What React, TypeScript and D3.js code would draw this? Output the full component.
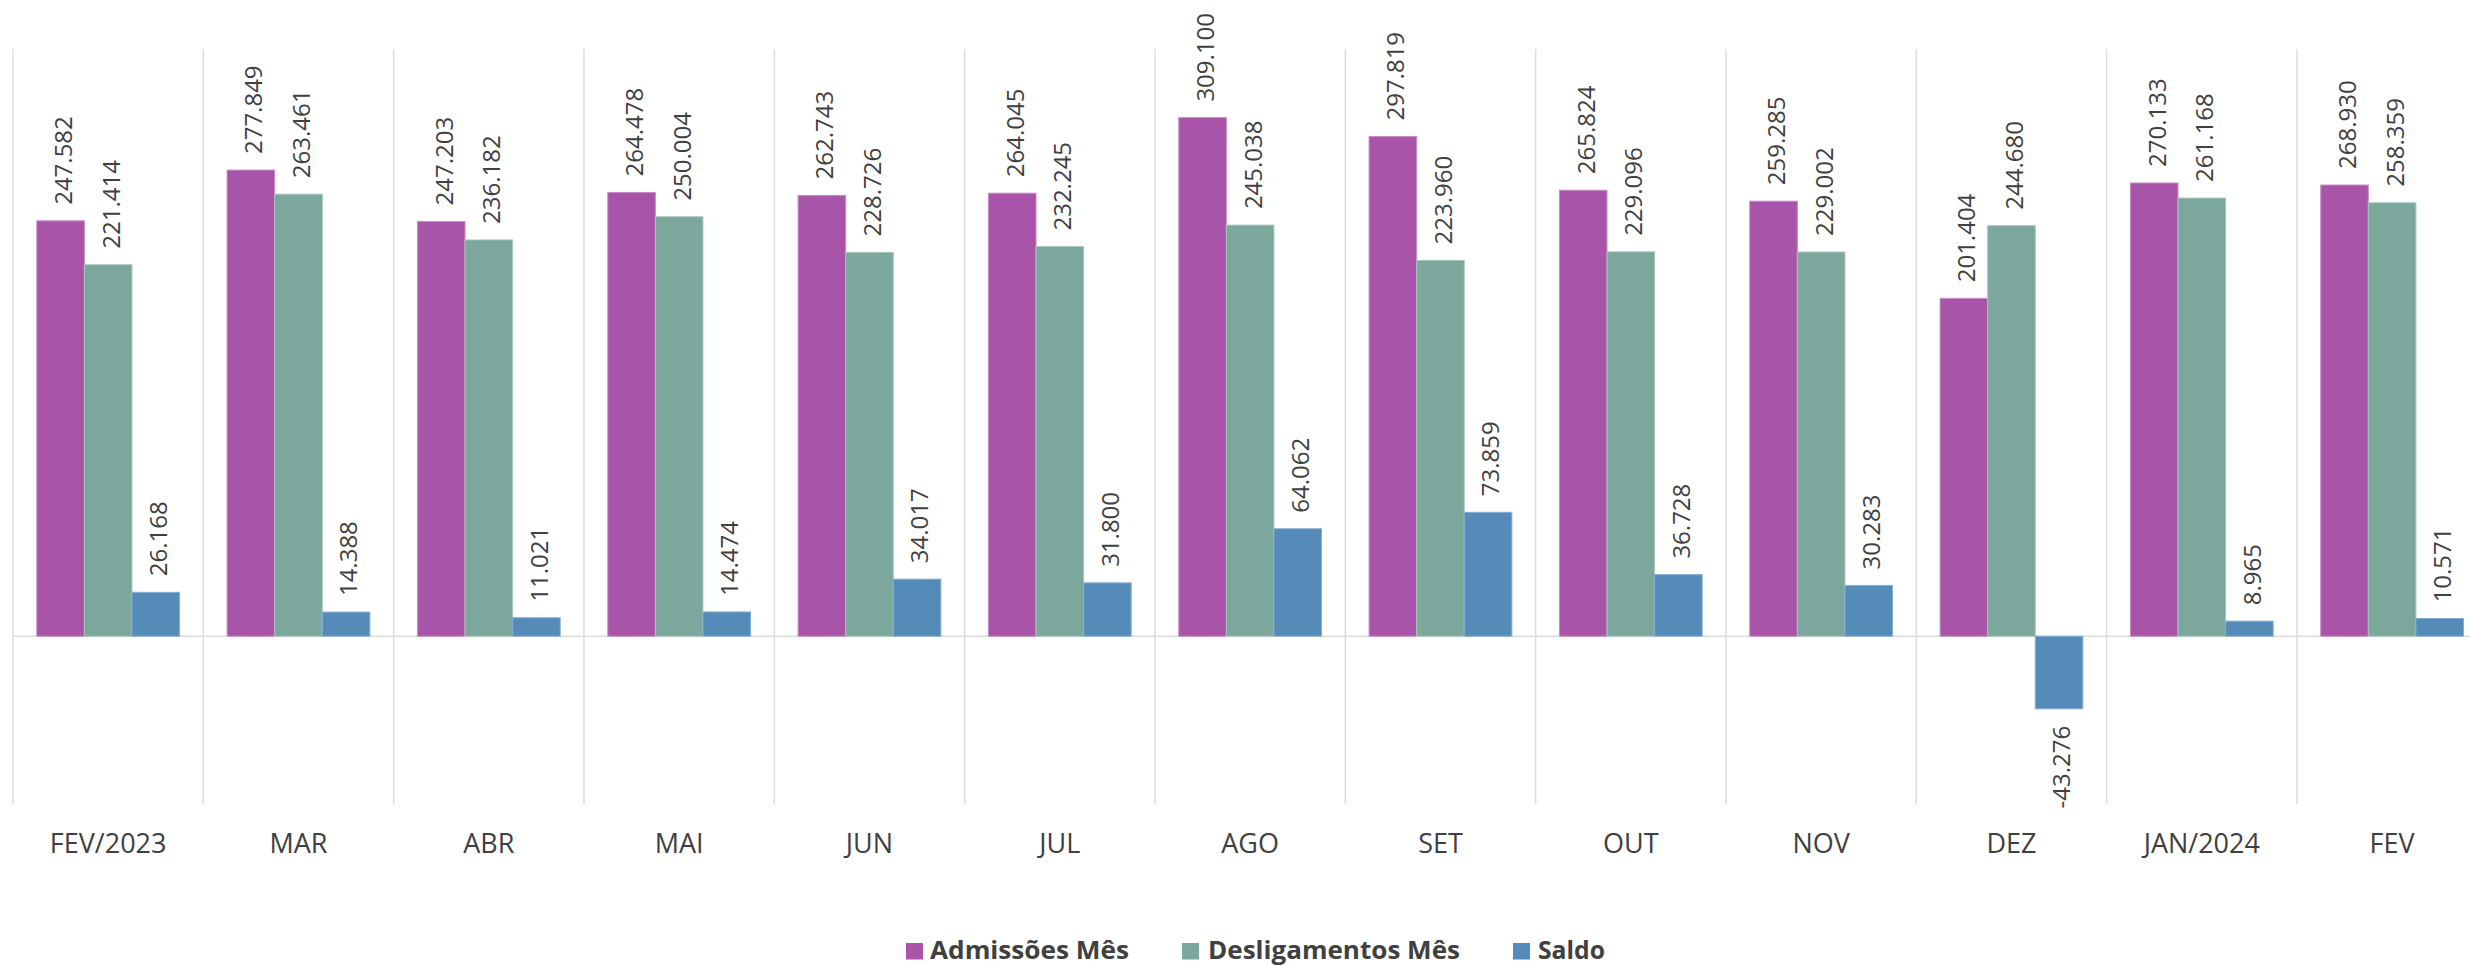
import * as d3 from "d3";

const WIDTH = 2470;
const HEIGHT = 966;
const PLOT = { left: 13, top: 49, bottom: 804, bandWidth: 190.33 };

const categories = [
  "FEV/2023", "MAR", "ABR", "MAI", "JUN", "JUL", "AGO",
  "SET", "OUT", "NOV", "DEZ", "JAN/2024", "FEV",
];
const admissoes = [
  247582, 277849, 247203, 264478, 262743, 264045, 309100,
  297819, 265824, 259285, 201404, 270133, 268930,
];
const desligamentos = [
  221414, 263461, 236182, 250004, 228726, 232245, 245038,
  223960, 229096, 229002, 244680, 261168, 258359,
];
const saldo = [
  26168, 14388, 11021, 14474, 34017, 31800, 64062,
  73859, 36728, 30283, -43276, 8965, 10571,
];

const seriesNames = ["Admissões Mês", "Desligamentos Mês", "Saldo"];
const seriesValues = [admissoes, desligamentos, saldo];
const colors = ["#A854A8", "#7BA79D", "#548BB9"];
const strokes = ["#C98BC9", "#A6C6BE", "#86AED2"];

const TEXT = "#404040";
const GRID = "#DCDCDC";
const FONT = "'Open Sans', 'Noto Sans', sans-serif";

// legend layout (square x, text x, text width)
const legendLayout = [
  { sq: 906, tx: 930, tw: 199 },
  { sq: 1182, tx: 1208, tw: 252 },
  { sq: 1513, tx: 1538, tw: 67 },
];

const fmt = (v: number) =>
  d3.format(",")(v).replace(/,/g, ".").replace("\u2212", "-");

export default function App() {
  const x0 = d3
    .scaleBand<string>()
    .domain(categories)
    .range([PLOT.left, PLOT.left + PLOT.bandWidth * categories.length])
    .padding(0);

  const bw = x0.bandwidth();
  const x1 = d3
    .scaleBand<string>()
    .domain(seriesNames)
    .range([bw * 0.125, bw * 0.875])
    .padding(0);

  const y = d3
    .scaleLinear()
    .domain([-100000, 350000])
    .range([PLOT.bottom, PLOT.top]);

  const y0 = y(0);

  return (
    <svg
      width={WIDTH}
      height={HEIGHT}
      style={{ position: "absolute", left: 0, top: 0, display: "block" }}
      fontFamily={FONT}
    >
      <rect width={WIDTH} height={HEIGHT} fill="white" />

      {/* vertical category gridlines */}
      {categories.map((c) => (
        <line
          key={c}
          x1={x0(c)}
          x2={x0(c)}
          y1={PLOT.top}
          y2={PLOT.bottom}
          stroke={GRID}
          strokeWidth={1.5}
        />
      ))}

      {/* zero line */}
      <line
        x1={PLOT.left}
        x2={WIDTH}
        y1={y0}
        y2={y0}
        stroke={GRID}
        strokeWidth={1.5}
      />

      {/* bars */}
      {categories.map((c, i) =>
        seriesNames.map((s, k) => {
          const v = seriesValues[k][i];
          const bx = (x0(c) ?? 0) + (x1(s) ?? 0);
          const top = Math.min(y(v), y0);
          const h = Math.abs(y(v) - y0);
          return (
            <rect
              key={c + s}
              x={bx}
              y={top}
              width={x1.bandwidth()}
              height={h}
              fill={colors[k]}
              stroke={strokes[k]}
              strokeWidth={1}
            />
          );
        })
      )}

      {/* data labels */}
      {categories.map((c, i) =>
        seriesNames.map((s, k) => {
          const v = seriesValues[k][i];
          const cx = (x0(c) ?? 0) + (x1(s) ?? 0) + x1.bandwidth() / 2 + 3;
          const neg = v < 0;
          const ly = neg ? y(v) + 17 : y(v) - 16;
          return (
            <text
              key={"l" + c + s}
              transform={`translate(${cx},${ly}) rotate(-90)`}
              textAnchor={neg ? "end" : "start"}
              dy="0.35em"
              fontSize={24}
              fill={TEXT}
            >
              {fmt(v)}
            </text>
          );
        })
      )}

      {/* category labels */}
      {categories.map((c) => (
        <text
          key={"c" + c}
          x={(x0(c) ?? 0) + bw / 2}
          y={853}
          textAnchor="middle"
          fontSize={27}
          fill={TEXT}
        >
          {c}
        </text>
      ))}

      {/* legend */}
      {seriesNames.map((s, k) => (
        <g key={"lg" + s}>
          <rect
            x={legendLayout[k].sq}
            y={943}
            width={17}
            height={16.5}
            fill={colors[k]}
          />
          <text
            x={legendLayout[k].tx}
            y={959}
            fontSize={25}
            fontWeight="bold"
            fill={TEXT}
            textLength={legendLayout[k].tw}
            lengthAdjust="spacingAndGlyphs"
          >
            {s}
          </text>
        </g>
      ))}
    </svg>
  );
}
